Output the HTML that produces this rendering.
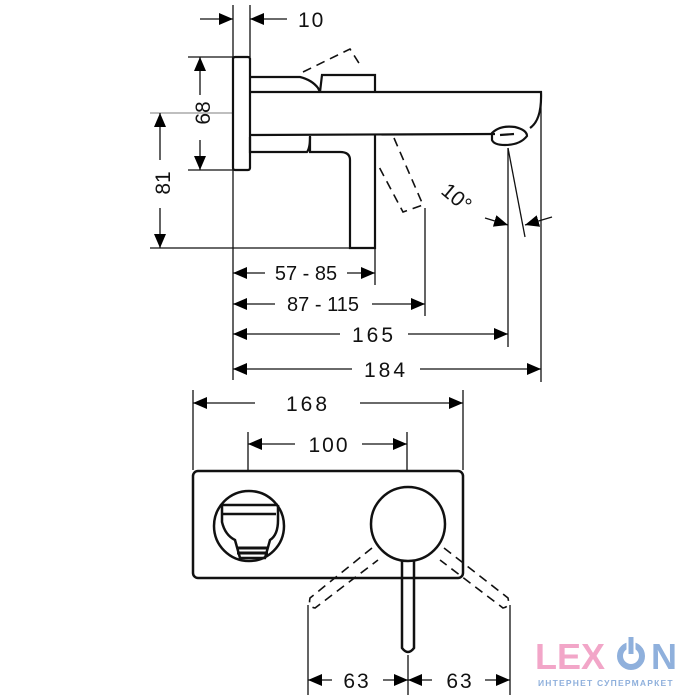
<!DOCTYPE html>
<html><head><meta charset="utf-8"><style>
html,body{margin:0;padding:0;background:#fff;width:700px;height:700px;overflow:hidden}
text{font-family:"Liberation Sans",sans-serif;fill:#111}
</style></head><body>
<svg width="700" height="700" viewBox="0 0 700 700" xmlns="http://www.w3.org/2000/svg">
<defs>
<marker id="a" markerWidth="14" markerHeight="12" refX="14" refY="6" orient="auto" markerUnits="userSpaceOnUse"><path d="M0,0 L14,6 L0,12Z" fill="#000"/></marker>
</defs>
<g stroke="#111" fill="none" stroke-width="1.3">
<line x1="233" y1="5" x2="233" y2="380"/>
<line x1="250" y1="5" x2="250" y2="57"/>
<line x1="188" y1="57" x2="233" y2="57"/>
<line x1="188" y1="170" x2="233" y2="170"/>
<line x1="150" y1="113" x2="233" y2="113" stroke="#999"/>
<line x1="150" y1="248" x2="375" y2="248"/>
<line x1="375" y1="248" x2="375" y2="285"/>
<line x1="425" y1="208" x2="425" y2="316"/>
<line x1="508" y1="148" x2="508" y2="347"/>
<line x1="541" y1="92" x2="541" y2="382"/>
<line x1="508" y1="148" x2="525" y2="237"/>
<line x1="200" y1="19" x2="233" y2="19" marker-end="url(#a)"/>
<line x1="287" y1="19" x2="250" y2="19" marker-end="url(#a)"/>
<line x1="200" y1="95" x2="200" y2="57" marker-end="url(#a)"/>
<line x1="200" y1="140" x2="200" y2="170" marker-end="url(#a)"/>
<line x1="160" y1="160" x2="160" y2="113" marker-end="url(#a)"/>
<line x1="160" y1="208" x2="160" y2="248" marker-end="url(#a)"/>
<line x1="485" y1="218" x2="508" y2="225" marker-end="url(#a)"/>
<line x1="552" y1="217" x2="525" y2="225" marker-end="url(#a)"/>
<line x1="265" y1="273" x2="233" y2="273" marker-end="url(#a)"/>
<line x1="347" y1="273" x2="375" y2="273" marker-end="url(#a)"/>
<line x1="275" y1="304" x2="233" y2="304" marker-end="url(#a)"/>
<line x1="372" y1="304" x2="425" y2="304" marker-end="url(#a)"/>
<line x1="340" y1="334" x2="233" y2="334" marker-end="url(#a)"/>
<line x1="408" y1="334" x2="508" y2="334" marker-end="url(#a)"/>
<line x1="352" y1="369" x2="233" y2="369" marker-end="url(#a)"/>
<line x1="420" y1="369" x2="541" y2="369" marker-end="url(#a)"/>
<g stroke-width="2.2">
<rect x="233" y="57" width="17" height="113" rx="2"/>
<path d="M250,77 L300,77 Q312,80 318,88 L320,92"/>
<path d="M320,92 L322,75 L375,75 L375,92"/>
<path d="M250,92 L541,92 Q542,120 530,128"/>
<path d="M250,135 L495,134"/>
<path d="M250,137 L250,152 L307,152 Q310,148 310,137"/>
<path d="M310,136 L310,152 L340,152 Q350,152 350,160 L350,248 L375,248 L375,134"/>
<path d="M492,133 Q500,125 515,127 Q527,130 527,136 Q520,145 505,145 Q494,145 492,140Z"/>
<path d="M500,135 L514,134"/>
</g>
<g stroke-dasharray="9,6" stroke-width="1.6">
<path d="M303,72 L350,49 L362,68"/>
<path d="M394,138 L423,205 L403,212 L377,163"/>
</g>
<line x1="193" y1="390" x2="193" y2="470"/>
<line x1="463" y1="390" x2="463" y2="470"/>
<line x1="248" y1="432" x2="248" y2="470"/>
<line x1="407" y1="432" x2="407" y2="470"/>
<line x1="308" y1="605" x2="308" y2="695"/>
<line x1="510" y1="605" x2="510" y2="695"/>
<line x1="408" y1="655" x2="408" y2="695"/>
<line x1="255" y1="403" x2="193" y2="403" marker-end="url(#a)"/>
<line x1="360" y1="403" x2="463" y2="403" marker-end="url(#a)"/>
<line x1="295" y1="444" x2="248" y2="444" marker-end="url(#a)"/>
<line x1="362" y1="444" x2="407" y2="444" marker-end="url(#a)"/>
<line x1="332" y1="680" x2="308" y2="680" marker-end="url(#a)"/>
<line x1="383" y1="680" x2="408" y2="680" marker-end="url(#a)"/>
<line x1="432" y1="680" x2="408" y2="680" marker-end="url(#a)"/>
<line x1="485" y1="680" x2="510" y2="680" marker-end="url(#a)"/>
<g stroke-width="2.5">
<rect x="193" y="471" width="270" height="107" rx="5"/>
<circle cx="249" cy="526" r="35"/>
<circle cx="408" cy="524" r="37"/>
<path d="M222,505 L278,505 M222,514 L276,514 M222,505 L222,522 Q225,535 235,540 L240,558 L265,558 L270,540 Q278,535 278,520 L278,505"/>
<path d="M238,548 L268,548 M237,553 L268,553" stroke-width="3"/>
<path d="M402,560 L402,648 Q408,656 414,648 L414,560"/>
</g>
<g stroke-dasharray="9,6" stroke-width="1.6">
<path d="M372,548 L310,598 Q308,607 315,608 L378,560"/>
<path d="M444,548 L508,598 Q510,607 503,608 L440,560"/>
</g>
</g>
<g style="font-size:21px">
<text x="298" y="27" letter-spacing="2">10</text>
<text transform="translate(210,113) rotate(-90)" text-anchor="middle">68</text>
<text transform="translate(170,183) rotate(-90)" text-anchor="middle">81</text>
<text transform="translate(452,203) rotate(40)" text-anchor="middle">10°</text>
<text x="306" y="280" text-anchor="middle" style="font-size:20px">57 - 85</text>
<text x="323" y="311" text-anchor="middle" style="font-size:20px">87 - 115</text>
<text x="374" y="342" text-anchor="middle" letter-spacing="3">165</text>
<text x="386" y="377" text-anchor="middle" letter-spacing="3">184</text>
<text x="308" y="411" text-anchor="middle" letter-spacing="3">168</text>
<text x="329" y="452" text-anchor="middle" letter-spacing="2">100</text>
<text x="357" y="688" text-anchor="middle" letter-spacing="2">63</text>
<text x="460" y="688" text-anchor="middle" letter-spacing="2">63</text>
</g>
<text x="535" y="669" style="fill:#f2a6c8;font-weight:bold;font-size:36px">LEX</text>
<text x="651" y="669" style="fill:#8fb0dc;font-weight:bold;font-size:36px">N</text>
<circle cx="631" cy="656" r="11" fill="none" stroke="#8fb0dc" stroke-width="6"/>
<line x1="631" y1="636" x2="631" y2="655" stroke="#fff" stroke-width="9"/>
<line x1="631" y1="637" x2="631" y2="654" stroke="#8fb0dc" stroke-width="5"/>
<text x="538" y="686" letter-spacing="1.2" style="fill:#8fb0dc;font-weight:bold;font-size:8.5px">ИНТЕРНЕТ СУПЕРМАРКЕТ</text>
</svg>
</body></html>
